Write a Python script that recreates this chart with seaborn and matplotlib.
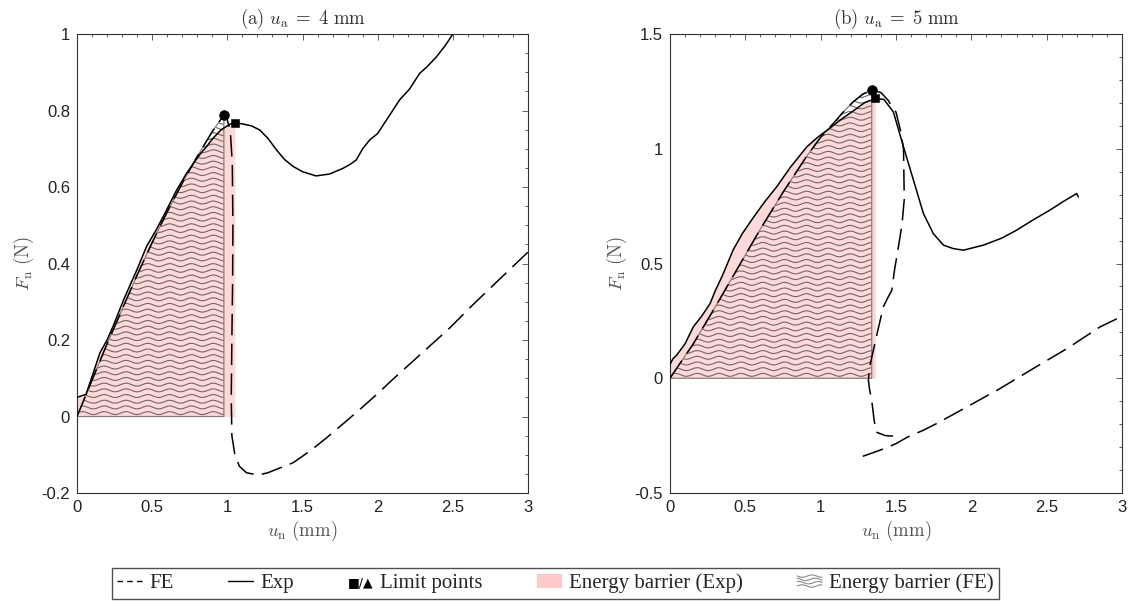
import numpy as np
import pandas as pd
import matplotlib
matplotlib.use("Agg")
import matplotlib.pyplot as plt
import seaborn as sns
from matplotlib.lines import Line2D
from matplotlib.patches import Patch, Polygon
from matplotlib.text import Text
from matplotlib.legend_handler import HandlerBase
from matplotlib.ticker import MultipleLocator, FuncFormatter

# ---------------- data ----------------
# panel (a) u_a = 4 mm
exp_a_u = [0, 0.06, 0.097, 0.153, 0.20, 0.24, 0.31, 0.33, 0.40, 0.463, 0.53, 0.596, 0.66, 0.729,
           0.78, 0.817, 0.86, 0.906, 0.96, 1.017, 1.05, 1.10, 1.16, 1.216, 1.27, 1.327, 1.38,
           1.437, 1.50, 1.59, 1.68, 1.77, 1.82, 1.858, 1.90, 1.947, 2.00, 2.058, 2.10, 2.146,
           2.21, 2.279, 2.33, 2.39, 2.45, 2.50]
exp_a_F = [0.05, 0.058, 0.101, 0.167, 0.20, 0.236, 0.305, 0.323, 0.385, 0.445, 0.49, 0.54, 0.59,
           0.636, 0.665, 0.685, 0.705, 0.728, 0.75, 0.764, 0.768, 0.765, 0.76, 0.749, 0.727,
           0.697, 0.672, 0.654, 0.64, 0.629, 0.634, 0.649, 0.66, 0.671, 0.70, 0.723, 0.74,
           0.775, 0.80, 0.828, 0.855, 0.897, 0.915, 0.94, 0.97, 1.0]
exp_a_lim = 20   # index of Exp limit point (square)

fe_a_u = [0, 0.10, 0.20, 0.30, 0.40, 0.50, 0.60, 0.70, 0.80, 0.90, 0.977, 1.00, 1.02, 1.033,
          1.037, 1.035, 1.03, 1.026, 1.03, 1.05, 1.08, 1.127, 1.205, 1.27, 1.327, 1.437, 1.55,
          1.659, 1.77, 1.88, 2.00, 2.10, 2.21, 2.32, 2.47, 2.633, 2.80, 3.00]
fe_a_F = [0, 0.095, 0.19, 0.28, 0.37, 0.455, 0.535, 0.61, 0.68, 0.745, 0.788, 0.775, 0.745,
          0.66, 0.50, 0.35, 0.20, 0.05, -0.05, -0.10, -0.13, -0.147, -0.153, -0.147, -0.138,
          -0.121, -0.09, -0.056, -0.019, 0.018, 0.06, 0.097, 0.136, 0.175, 0.228, 0.292,
          0.355, 0.43]
fe_a_lim = 10    # index of FE limit point (circle)

# panel (b) u_a = 5 mm
exp_b_u = [0, 0.02, 0.044, 0.10, 0.155, 0.21, 0.266, 0.30, 0.35, 0.42, 0.48, 0.553, 0.63, 0.708,
           0.80, 0.908, 0.98, 1.062, 1.14, 1.217, 1.29, 1.363, 1.42, 1.483, 1.55, 1.616, 1.682,
           1.748, 1.815, 1.88, 1.948, 2.08, 2.20, 2.30, 2.41, 2.52, 2.61, 2.70, 2.71]
exp_b_F = [0.06, 0.085, 0.10, 0.15, 0.224, 0.27, 0.325, 0.38, 0.45, 0.56, 0.63, 0.70, 0.77,
           0.834, 0.92, 1.008, 1.05, 1.09, 1.13, 1.165, 1.20, 1.219, 1.215, 1.16, 1.008,
           0.863, 0.718, 0.63, 0.58, 0.565, 0.558, 0.58, 0.61, 0.645, 0.69, 0.732, 0.77,
           0.805, 0.79]
exp_b_lim = 21

fe_b1_u = [0, 0.155, 0.30, 0.45, 0.60, 0.75, 0.90, 1.00, 1.084, 1.15, 1.217, 1.28,
           1.339, 1.40, 1.45, 1.47, 1.50, 1.53, 1.55, 1.555, 1.54, 1.516, 1.49, 1.472, 1.445,
           1.416, 1.38, 1.35, 1.325, 1.317, 1.325, 1.339, 1.355, 1.37, 1.43, 1.48]
fe_b1_F = [0, 0.15, 0.31, 0.48, 0.65, 0.81, 0.96, 1.05, 1.11, 1.16, 1.205, 1.238,
           1.255, 1.245, 1.21, 1.185, 1.16, 1.08, 1.00, 0.78, 0.67, 0.572, 0.47, 0.383, 0.35,
           0.311, 0.21, 0.122, 0.05, -0.009, -0.05, -0.096, -0.183, -0.235, -0.25, -0.252]
fe_b_lim = 12
fe_b2_u = [1.28, 1.40, 1.50, 1.58, 1.68, 1.771, 1.97, 2.19, 2.41, 2.634, 2.855, 3.00]
fe_b2_F = [-0.34, -0.312, -0.285, -0.255, -0.227, -0.197, -0.125, -0.045, 0.042, 0.129,
           0.224, 0.27]

titles = [r'$\mathrm{(a)}\ u_\mathrm{a}\;=\;4\ \mathrm{mm}$',
          r'$\mathrm{(b)}\ u_\mathrm{a}\;=\;5\ \mathrm{mm}$']
legend_labels = ['FE', 'Exp', 'Limit points', 'Energy barrier (Exp)', 'Energy barrier (FE)']

# ---------------- style ----------------
sns.set_style('white')
plt.rcParams['font.family'] = ['Liberation Sans', 'DejaVu Sans']
plt.rcParams['mathtext.fontset'] = 'cm'
plt.rcParams['axes.unicode_minus'] = False

PINK = '#fdd9d9'
WAVE = '#736666'
DASH = (0, (14, 5.5))

fig = plt.figure(figsize=(11.29, 6.05), dpi=100)
axA = fig.add_axes([0.0682, 0.1851, 0.3995, 0.7587])
axB = fig.add_axes([0.5934, 0.1851, 0.4004, 0.7587])


def fmt(v, p):
    v = round(v, 6)
    if abs(v) < 1e-9:
        return '0'
    return f'{v:g}'


def style_axes(ax, ylim, ymaj, ymin_step, title):
    ax.set_xlim(0, 3)
    ax.set_ylim(*ylim)
    ax.xaxis.set_major_locator(MultipleLocator(0.5))
    ax.xaxis.set_minor_locator(MultipleLocator(0.1))
    ax.yaxis.set_major_locator(MultipleLocator(ymaj))
    ax.yaxis.set_minor_locator(MultipleLocator(ymin_step))
    ax.xaxis.set_major_formatter(FuncFormatter(fmt))
    ax.yaxis.set_major_formatter(FuncFormatter(fmt))
    ax.tick_params(which='both', direction='in', top=True, right=True, colors='#444',
                   labelcolor='#222', labelsize=12, width=0.6)
    ax.tick_params(which='major', length=4.5, pad=5)
    ax.tick_params(which='minor', length=2.5)
    for s in ax.spines.values():
        s.set_visible(True)
        s.set_color('#333')
        s.set_linewidth(0.8)
    ax.set_title(title, fontsize=13.5, color='#333', pad=7)
    ax.set_xlabel(r'$u_\mathrm{n}\ \mathrm{(mm)}$', fontsize=13.5, color='#555', labelpad=3)
    ax.set_ylabel(r'$F_\mathrm{n}\ \mathrm{(N)}$', fontsize=13.5, color='#555', labelpad=4)


def wave_hatch(ax, poly):
    y0, y1 = ax.get_ylim()
    yr = y1 - y0
    dy = 0.0124 * yr
    amp = 0.0032 * yr
    per = 0.145
    xs = np.linspace(0, 3, 900)
    for k in range(int(y1 / dy) + 2):
        yk = (k + 0.6) * dy
        ln, = ax.plot(xs, yk + amp * np.sin(2 * np.pi * xs / per), color=WAVE, lw=0.8,
                      zorder=2)
        ln.set_clip_path(poly)


def panel(ax, eu, eF, elim, fe_segments, fu, fF, flim, ylim, ymaj, ymin_step, title):
    style_axes(ax, ylim, ymaj, ymin_step, title)
    # energy barrier (Exp): pink region under Exp up to its limit point
    ax.fill_between(eu[:elim + 1], eF[:elim + 1], 0, color=PINK, lw=0, zorder=1)
    # energy barrier (FE): wavy hatched region under FE up to its limit point
    xy = [(0, 0)] + list(zip(fu[:flim + 1], fF[:flim + 1])) + [(fu[flim], 0)]
    poly = Polygon(xy, closed=True, facecolor='none', edgecolor='#8c7b7b', lw=0.9, zorder=2.5)
    ax.add_patch(poly)
    wave_hatch(ax, poly)
    # curves
    sns.lineplot(x=eu, y=eF, ax=ax, sort=False, estimator=None, color='black', lw=1.1,
                 zorder=3)
    for su, sF in fe_segments:
        sns.lineplot(x=su, y=sF, ax=ax, sort=False, estimator=None, color='black', lw=1.1,
                     linestyle=DASH, zorder=3)
    # limit points
    sns.scatterplot(x=[fu[flim]], y=[fF[flim]], ax=ax, marker='o', s=48, color='black',
                    edgecolor='black', zorder=5)
    sns.scatterplot(x=[eu[elim]], y=[eF[elim]], ax=ax, marker='s', s=26, color='black',
                    edgecolor='black', zorder=5)
    ax.set_xlim(0, 3)
    ax.set_ylim(*ylim)


panel(axA, exp_a_u, exp_a_F, exp_a_lim, [(fe_a_u, fe_a_F)], fe_a_u, fe_a_F, fe_a_lim,
      (-0.2, 1.0), 0.2, 0.05, titles[0])
panel(axB, exp_b_u, exp_b_F, exp_b_lim, [(fe_b1_u, fe_b1_F), (fe_b2_u, fe_b2_F)],
      fe_b1_u, fe_b1_F, fe_b_lim, (-0.5, 1.5), 0.5, 0.1, titles[1])


# ---------------- legend ----------------
class TextHandler(HandlerBase):
    def create_artists(self, legend, orig_handle, xdescent, ydescent, width, height,
                       fontsize, trans):
        t = Text(-xdescent + width / 2, -ydescent + height / 2 - 1, '■/▲', ha='center',
                 va='center', fontsize=fontsize * 0.6, family='DejaVu Sans', color='black',
                 transform=trans)
        return [t]


class WaveHandler(HandlerBase):
    def create_artists(self, legend, orig_handle, xdescent, ydescent, width, height,
                       fontsize, trans):
        arts = []
        xs = np.linspace(0, 1, 60)
        for k in range(4):
            yk = (k + 0.5) / 4
            ys = yk + 0.09 * np.sin(2 * np.pi * xs * 1.3 + k)
            arts.append(Line2D(-xdescent + xs * width, -ydescent + ys * height, color='#8a8a8a',
                               lw=0.8, transform=trans))
        return arts


h_fe = Line2D([], [], color='black', lw=1.0, linestyle=(0, (4, 3)))
h_exp = Line2D([], [], color='black', lw=1.0)
h_lim = Line2D([], [], color='none')
h_pink = Patch(facecolor='#fdc9c9', edgecolor='none')
h_wave = Patch(facecolor='none', edgecolor='none')

leg = fig.legend([h_fe, h_exp, h_lim, h_pink, h_wave], legend_labels,
                 handler_map={h_lim: TextHandler(), h_wave: WaveHandler()},
                 loc='center', bbox_to_anchor=(0.492, 0.0355), ncol=5, frameon=True,
                 fancybox=False, edgecolor='#222', handlelength=1.2, handleheight=0.6,
                 handletextpad=0.35, columnspacing=2.6, borderpad=0.25,
                 prop={'family': 'Liberation Serif', 'size': 15})
leg.get_frame().set_linewidth(1.0)

fig.savefig('out.png', dpi=100)
